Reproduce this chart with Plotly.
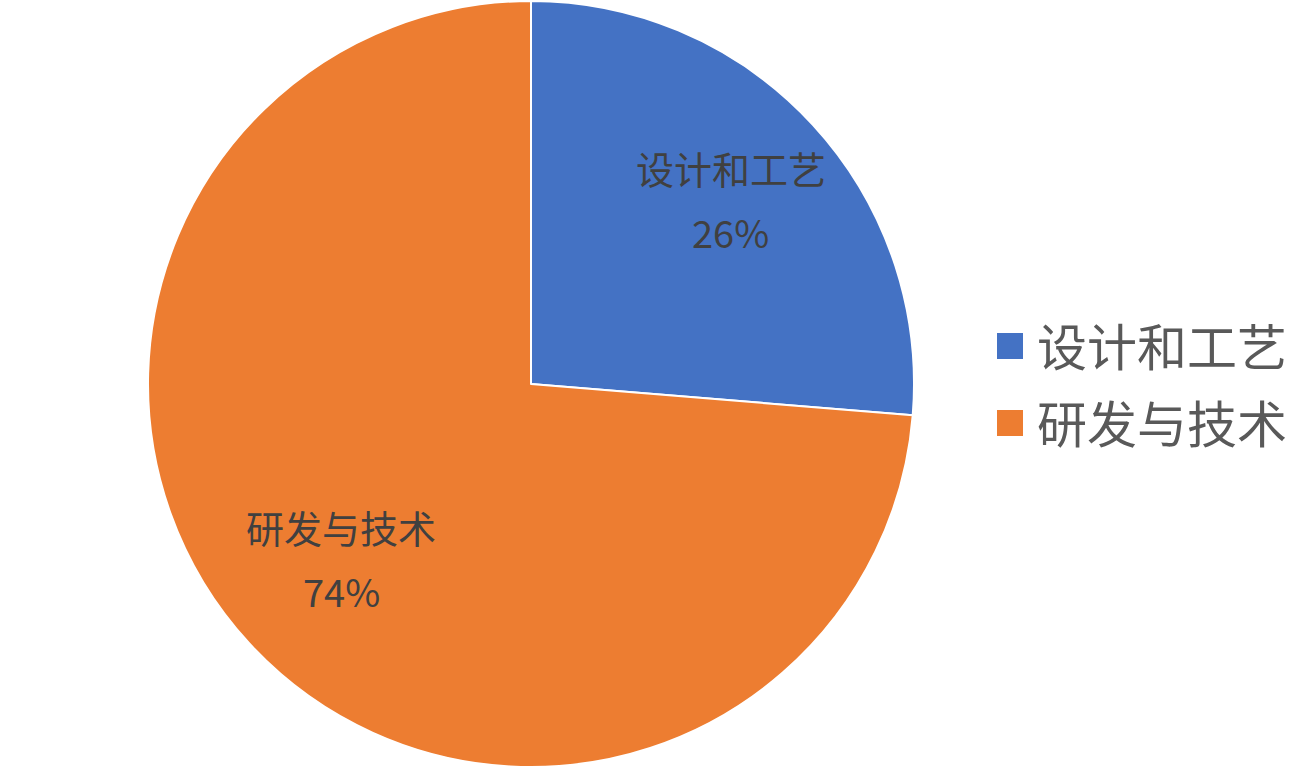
import math
import plotly.graph_objects as go

categories = ["设计和工艺", "研发与技术"]
values = [26.3, 73.7]
colors = ["#4472C4", "#ED7D31"]

W, H = 1310, 769
cx, cy, R = 531, 384, 383
font = "Noto Sans CJK SC, Microsoft YaHei, sans-serif"
label_radius = [0.709, 0.674]  # fraction of pie radius for each slice's label

fig = go.Figure(go.Pie(
    labels=categories, values=values, sort=False, direction="clockwise", rotation=0,
    marker=dict(colors=colors, line=dict(color="white", width=2)),
    textinfo="none", hoverinfo="label+percent", showlegend=False,
    domain=dict(x=[(cx - R) / W, (cx + R) / W], y=[1 - (cy + R) / H, 1 - (cy - R) / H]),
))

total = sum(values)
cum = 0
annotations = []
shapes = []
for i, (lab, v) in enumerate(zip(categories, values)):
    mid = (cum + v / 2) / total * 2 * math.pi
    cum += v
    rr = label_radius[i] * R
    px = cx + rr * math.sin(mid)
    py = cy - rr * math.cos(mid)
    pct = f"{round(v / total * 100)}%"
    for txt, shift in [(lab, 32), (pct, -32)]:
        annotations.append(dict(
            x=px / W, y=1 - py / H, xref="paper", yref="paper", text=txt,
            showarrow=False, yshift=shift, xanchor="center", yanchor="middle",
            font=dict(family=font, size=38, color="#404040"),
        ))

# legend
leg_x, leg_y0, leg_dy, sq = 997, 346, 77, 26
for i, (lab, col) in enumerate(zip(categories, colors)):
    yc = leg_y0 + i * leg_dy
    shapes.append(dict(type="rect", xref="paper", yref="paper",
                       x0=leg_x / W, x1=(leg_x + sq) / W,
                       y0=1 - (yc + sq / 2) / H, y1=1 - (yc - sq / 2) / H,
                       fillcolor=col, line=dict(width=0)))
    annotations.append(dict(
        x=1035 / W, y=1 - (yc - 2) / H, xref="paper", yref="paper", text=lab,
        showarrow=False, xanchor="left", yanchor="middle",
        font=dict(family=font, size=50, color="#595959"),
    ))

fig.update_layout(
    width=W, height=H, margin=dict(l=0, r=0, t=0, b=0),
    paper_bgcolor="white", plot_bgcolor="white",
    annotations=annotations, shapes=shapes, showlegend=False,
)

fig.write_html("out.html", config={"displayModeBar": False},
               post_script="document.body.style.margin='0';")
